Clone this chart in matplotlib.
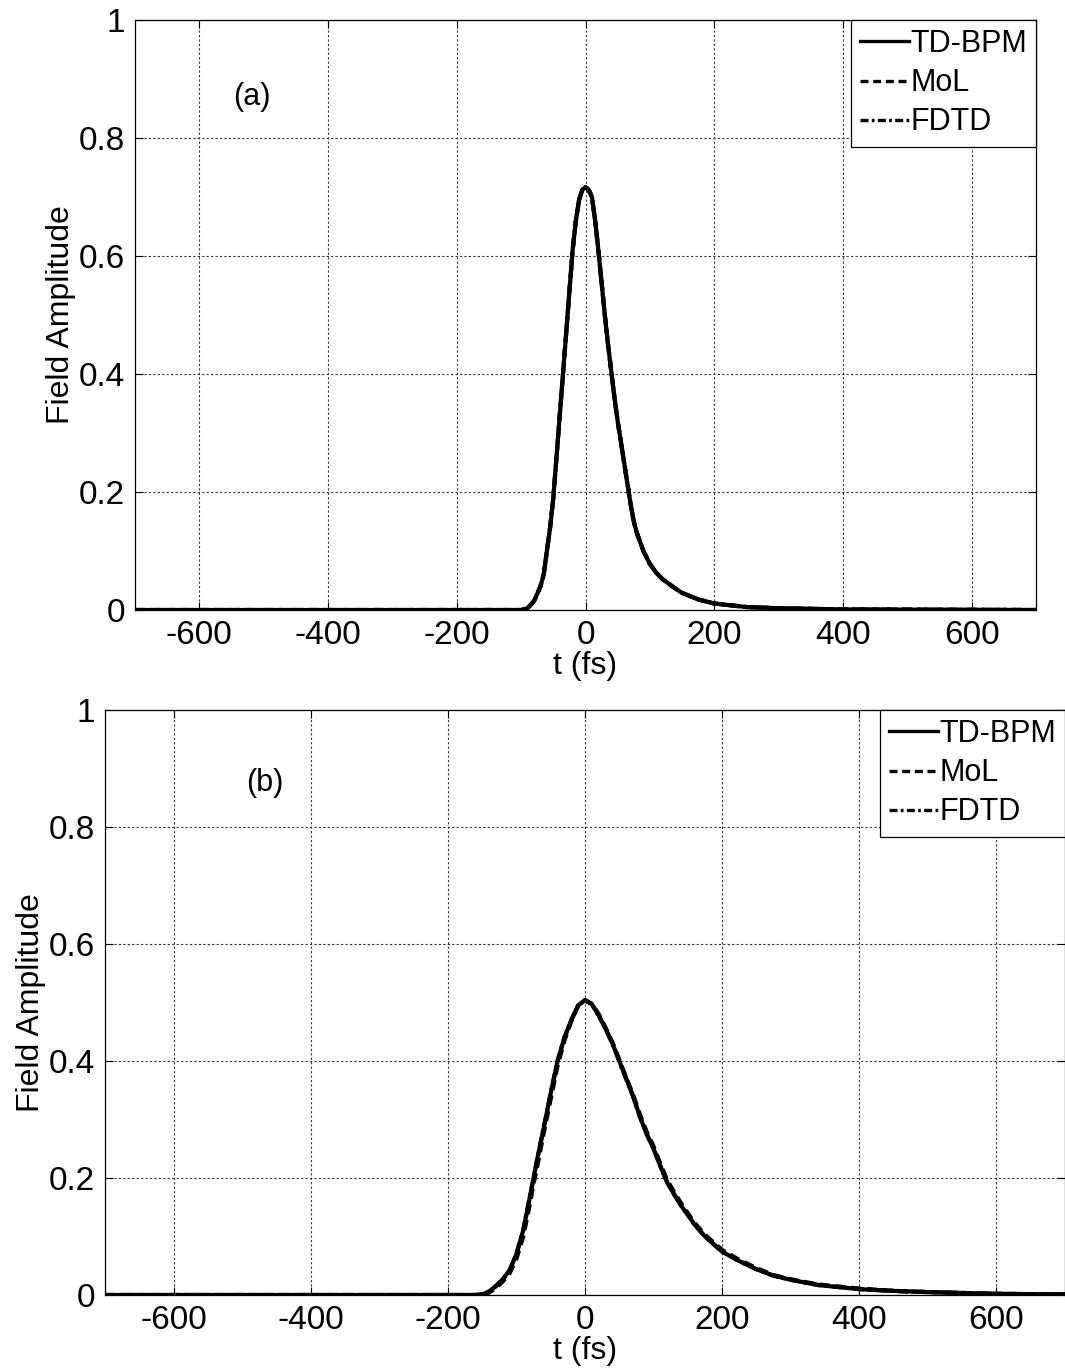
import numpy as np
import matplotlib
matplotlib.use("Agg")
import matplotlib.pyplot as plt

plt.rcParams['font.family'] = ['Liberation Sans', 'DejaVu Sans']

# panel (a)
t_a = [-700, -100, -90, -80, -70, -65, -60, -55, -50, -45, -40, -35, -30, -25, -20, -15, -10, -5, 0,
       5, 10, 15, 20, 25, 30, 35, 40, 45, 50, 55, 60, 65, 70, 75, 80, 90, 100, 110, 120, 135, 150,
       175, 200, 250, 300, 400, 700]
amp_a = [0, 0.0, 0.003, 0.015, 0.04, 0.06, 0.10, 0.14, 0.19, 0.26, 0.33, 0.40, 0.47, 0.54, 0.61,
         0.66, 0.695, 0.712, 0.717, 0.712, 0.70, 0.66, 0.61, 0.555, 0.50, 0.45, 0.405, 0.36, 0.32,
         0.285, 0.25, 0.215, 0.18, 0.15, 0.13, 0.10, 0.078, 0.063, 0.052, 0.04, 0.029, 0.018,
         0.011, 0.005, 0.003, 0.001, 0]

# panel (b)
t_b = [-700, -160, -150, -140, -130, -120, -110, -100, -90, -80, -75, -70, -60, -50, -40, -30, -20,
       -10, 0, 10, 20, 30, 40, 50, 60, 70, 80, 90, 100, 110, 120, 130, 140, 150, 160, 175, 200,
       225, 250, 275, 300, 340, 400, 450, 500, 600, 700]
amp_b = [0, 0, 0.001, 0.006, 0.015, 0.027, 0.042, 0.07, 0.111, 0.17, 0.2, 0.23, 0.287, 0.345, 0.40,
         0.44, 0.47, 0.495, 0.504, 0.497, 0.478, 0.455, 0.43, 0.40, 0.37, 0.34, 0.305, 0.275, 0.25,
         0.22, 0.192, 0.172, 0.153, 0.137, 0.12, 0.10, 0.074, 0.058, 0.044, 0.033, 0.026, 0.017,
         0.010, 0.007, 0.005, 0.002, 0.001]
amp_b_mol = [0, 0, 0.0, 0.004, 0.012, 0.023, 0.037, 0.062, 0.100, 0.158, 0.19, 0.218, 0.278, 0.335,
             0.392, 0.435, 0.468, 0.494, 0.504, 0.498, 0.480, 0.457, 0.432, 0.402, 0.372, 0.343,
             0.309, 0.279, 0.254, 0.224, 0.196, 0.176, 0.157, 0.140, 0.123, 0.103, 0.077, 0.060,
             0.046, 0.034, 0.027, 0.018, 0.011, 0.007, 0.005, 0.002, 0.001]

names = ['TD-BPM', 'MoL', 'FDTD']
xticks = [-600, -400, -200, 0, 200, 400, 600]
yticks = [0, 0.2, 0.4, 0.6, 0.8, 1]
ytick_labels = ['0', '0.2', '0.4', '0.6', '0.8', '1']

styles = ['-', (0, (2.4, 1.4)), (0, (2.4, 1.0, 0.8, 1.0))]

fig = plt.figure(figsize=(10.65, 13.72), dpi=100)
ax_a = fig.add_axes([135/1065, 762/1372, 901/1065, 590/1372])
ax_b = fig.add_axes([105/1065, 77/1372, 960/1065, 585/1372])

panels = [
    (ax_a, [(t_a, amp_a), (t_a, amp_a), (t_a, amp_a)], '(a)', (-518, 0.87)),
    (ax_b, [(t_b, amp_b), (t_b, amp_b_mol), (t_b, amp_b)], '(b)', (-467, 0.875)),
]

for ax, series, tag, tag_pos in panels:
    for (t, a), name, ls in zip(series, names, styles):
        ax.plot(t, a, color='black', lw=3.0, linestyle=ls, label=name)
    ax.set_xlim(-700, 700)
    ax.set_ylim(0, 1)
    ax.set_xticks(xticks)
    ax.set_xticklabels([str(v) for v in xticks])
    ax.set_yticks(yticks)
    ax.set_yticklabels(ytick_labels)
    ax.grid(True, color='#333333', linestyle=(0, (2, 2)), linewidth=0.8)
    ax.tick_params(direction='in', top=True, right=True, length=6, width=0.8,
                   labelsize=24, pad=7)
    for s in ax.spines.values():
        s.set_linewidth(0.9)
    ax.set_xlabel('t (fs)', fontsize=23, labelpad=0)
    ax.set_ylabel('Field Amplitude', fontsize=23, labelpad=2)
    ax.text(tag_pos[0], tag_pos[1], tag, fontsize=22, ha='center', va='center')
    leg = ax.legend(loc='upper right', fontsize=22, frameon=True, fancybox=False,
                    edgecolor='black', framealpha=1, borderaxespad=0,
                    handlelength=1.6, handletextpad=0.05, labelspacing=0.3,
                    borderpad=0.3)
    leg.get_frame().set_linewidth(0.9)
    for h in leg.get_lines():
        h.set_linewidth(2.4)

fig.savefig('out.png', dpi=100)
